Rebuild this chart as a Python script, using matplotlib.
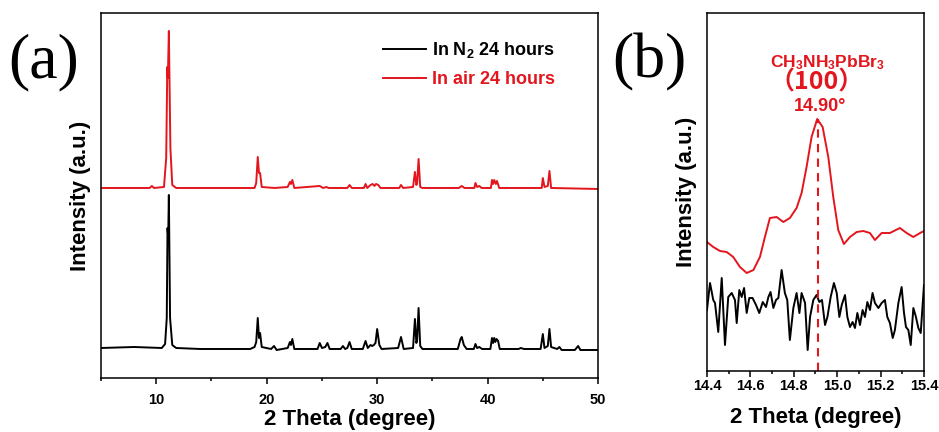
import matplotlib
matplotlib.use("Agg")
import matplotlib.pyplot as plt
from matplotlib.ticker import MultipleLocator, FormatStrFormatter

plt.rcParams["font.family"] = ["Liberation Sans", "Noto Sans CJK SC", "DejaVu Sans"]
plt.rcParams["font.weight"] = "bold"
plt.rcParams["mathtext.fontset"] = "custom"
plt.rcParams["mathtext.rm"] = "Liberation Sans:bold"
plt.rcParams["mathtext.it"] = "Liberation Sans:bold"
plt.rcParams["mathtext.bf"] = "Liberation Sans:bold"

RED = "#e3161d"

# (a) full XRD patterns, vertex points
theta_n2 = [5.0, 8.0, 10.5, 10.8, 10.95, 11.02, 11.08, 11.14, 11.25, 11.45, 11.8, 14.0,
            18.5, 18.9, 19.05, 19.19, 19.3, 19.4, 19.55, 20.4, 20.66, 20.9, 21.9, 22.1,
            22.2, 22.32, 22.5, 24.6, 24.8, 25.0, 25.3, 25.5, 25.7, 26.7, 26.9, 27.1,
            27.3, 27.5, 27.7, 28.7, 28.95, 29.15, 29.4, 29.55, 29.7, 29.85, 30.0, 30.2,
            30.4, 31.9, 32.16, 32.4, 33.25, 33.42, 33.55, 33.62, 33.75, 33.9, 34.1, 37.3,
            37.55, 37.66, 37.85, 38.1, 38.75, 38.9, 39.05, 39.25, 39.5, 40.25, 40.4, 40.5,
            40.6, 40.7, 40.8, 40.95, 41.1, 42.8, 43.0, 43.3, 44.8, 45.0, 45.15, 45.45,
            45.6, 45.75, 46.3, 46.5, 46.7, 47.9, 48.2, 48.4, 50.0]
int_n2 = [30, 31, 30, 34, 60, 150, 140, 183, 60, 33, 30, 29,
          29, 31, 36, 60, 40, 45, 31, 29, 32, 28, 30, 36,
          33, 39, 29, 29, 35, 30, 31, 35, 29, 29, 32, 29,
          30, 36, 29, 29, 37, 30, 33, 32, 33, 35, 49, 33,
          29, 30, 41, 29, 30, 59, 35, 38, 70, 32, 29, 29,
          39, 41, 33, 29, 29, 34, 30, 31, 29, 29, 40, 35,
          40, 36, 39, 37, 29, 29, 30, 29, 29, 44, 30, 32,
          49, 31, 29, 31, 28, 28, 32, 28, 28]

theta_air = [5.0, 9.4, 9.6, 9.8, 10.7, 10.9, 11.0, 11.05, 11.14, 11.28, 11.45, 11.8,
             18.9, 19.05, 19.19, 19.3, 19.4, 19.55, 20.7, 21.9, 22.1, 22.2, 22.32, 22.5,
             24.8, 25.1, 25.4, 25.6, 27.3, 27.5, 27.7, 28.8, 28.95, 29.1, 29.4, 29.6,
             29.75, 29.9, 30.1, 30.3, 32.0, 32.16, 32.35, 33.25, 33.42, 33.55, 33.62, 33.75,
             33.9, 34.1, 37.4, 37.66, 37.9, 38.8, 38.9, 39.05, 39.25, 39.45, 40.3, 40.4,
             40.5, 40.6, 40.75, 40.85, 41.05, 44.9, 45.0, 45.15, 45.45, 45.6, 45.75, 50.0]
int_air = [190, 190, 192, 190, 191, 220, 311, 300, 347, 230, 193, 190,
           190, 195, 221, 205, 205, 191, 190, 191, 196, 194, 198, 190,
           192, 190, 191, 190, 190, 193, 190, 190, 194, 190, 193, 194,
           192, 194, 193, 190, 190, 193, 190, 191, 206, 193, 195, 219,
           191, 190, 190, 192, 190, 190, 195, 191, 192, 190, 190, 198,
           194, 198, 194, 197, 190, 190, 200, 191, 192, 207, 190, 189]

# (b) zoom on the (100) region
theta_b_air = [14.400, 14.429, 14.460, 14.491, 14.521, 14.552, 14.583, 14.614, 14.644,
               14.667, 14.690, 14.721, 14.752, 14.782, 14.813, 14.836, 14.859, 14.882,
               14.908, 14.933, 14.959, 14.982, 15.005, 15.031, 15.059, 15.090, 15.120,
               15.151, 15.174, 15.205, 15.243, 15.289, 15.320, 15.351, 15.382, 15.400]
int_b_air = [129, 124, 120, 119, 114, 104, 98, 101, 114,
             134, 153, 154, 149, 153, 163, 178, 204, 234,
             252, 244, 214, 174, 141, 127, 134, 139, 140,
             138, 131, 138, 138, 143, 138, 134, 138, 140]

theta_b_n2 = [14.400, 14.414, 14.429, 14.437, 14.452, 14.468, 14.483, 14.498, 14.514,
              14.529, 14.537, 14.549, 14.560, 14.571, 14.583, 14.595, 14.610, 14.626,
              14.641, 14.657, 14.672, 14.683, 14.693, 14.706, 14.718, 14.729, 14.744,
              14.759, 14.770, 14.782, 14.798, 14.813, 14.826, 14.836, 14.852, 14.864,
              14.875, 14.890, 14.905, 14.918, 14.930, 14.944, 14.955, 14.970, 14.985,
              14.998, 15.010, 15.021, 15.036, 15.047, 15.059, 15.071, 15.082, 15.093,
              15.105, 15.117, 15.128, 15.139, 15.151, 15.163, 15.174, 15.190, 15.205,
              15.220, 15.231, 15.243, 15.256, 15.266, 15.282, 15.297, 15.308, 15.317,
              15.328, 15.339, 15.351, 15.363, 15.374, 15.385, 15.400]
int_b_n2 = [61, 88, 71, 68, 39, 93, 26, 74, 78,
            71, 48, 81, 74, 83, 58, 73, 73, 66,
            58, 69, 64, 74, 79, 63, 71, 73, 101,
            78, 71, 31, 63, 78, 58, 78, 68, 21,
            54, 71, 76, 69, 71, 46, 54, 74, 88,
            78, 54, 66, 76, 54, 44, 49, 43, 58,
            46, 61, 54, 69, 61, 78, 68, 63, 68,
            71, 54, 48, 33, 41, 68, 84, 58, 44,
            41, 26, 63, 54, 43, 38, 86]

peak_pos = 14.91
peak_top = 252

fig = plt.figure(figsize=(9.39, 4.32), dpi=100)
ax1 = fig.add_axes([0.1076, 0.125, 0.5293, 0.845])
ax2 = fig.add_axes([0.7529, 0.1412, 0.2311, 0.8287])

ax1.plot(theta_n2, int_n2, color="black", lw=1.4, label="In N$_2$ 24 hours")
ax1.plot(theta_air, int_air, color=RED, lw=1.4, label="In air 24 hours")
ax1.set_xlim(5, 50)
ax1.set_ylim(0, 365)
ax1.xaxis.set_major_locator(MultipleLocator(10))
ax1.xaxis.set_minor_locator(MultipleLocator(5))
ax1.legend(loc="upper left", bbox_to_anchor=(0.567, 0.925), frameon=False,
           fontsize=13, handlelength=2.4, handletextpad=0.3, labelspacing=0.6,
           borderpad=0, borderaxespad=0, labelcolor="linecolor")

ax2.plot(theta_b_air, int_b_air, color=RED, lw=1.4)
ax2.plot(theta_b_n2, int_b_n2, color="black", lw=1.4)
ax2.plot([peak_pos, peak_pos], [0, peak_top], color=RED, lw=1.5, dashes=(4, 3))
ax2.set_xlim(14.4, 15.4)
ax2.set_ylim(0, 358)
ax2.xaxis.set_major_locator(MultipleLocator(0.2))
ax2.xaxis.set_minor_locator(MultipleLocator(0.1))
ax2.xaxis.set_major_formatter(FormatStrFormatter("%.1f"))
ax2.text(0.553, 0.862, "CH$_3$NH$_3$PbBr$_3$", transform=ax2.transAxes, color=RED,
         fontsize=12.5, ha="center", va="center")
ax2.text(0.505, 0.806, "（100）", transform=ax2.transAxes, color=RED, fontsize=18,
         ha="center", va="center", family=["Noto Sans CJK SC"])
ax2.text(0.52, 0.738, "14.90°", transform=ax2.transAxes, color=RED, fontsize=13,
         ha="center", va="center")

for ax, pad in ((ax1, 7), (ax2, 2)):
    ax.set_yticks([])
    for s in ax.spines.values():
        s.set_linewidth(1.1)
    ax.tick_params(axis="x", which="major", direction="out", length=4, width=1.1,
                   labelsize=10.5, pad=pad)
    ax.tick_params(axis="x", which="minor", direction="out", length=2.5, width=1.1)
    for lab in ax.get_xticklabels():
        lab.set_fontweight("bold")
    ax.set_ylabel("Intensity (a.u.)", fontsize=16, fontweight="bold", labelpad=7)

ax1.set_xlabel("2 Theta (degree)", fontsize=16, fontweight="bold", labelpad=1)
ax2.set_xlabel("2 Theta (degree)", fontsize=16, fontweight="bold", labelpad=10)

fig.text(44 / 939, 1 - 62 / 432, "(a)", family="Liberation Serif", fontweight="normal",
         fontsize=46, ha="center", va="center")
fig.text(649 / 939, 1 - 62 / 432, "(b)", family="Liberation Serif", fontweight="normal",
         fontsize=46, ha="center", va="center")

fig.savefig("out.png", dpi=100)
